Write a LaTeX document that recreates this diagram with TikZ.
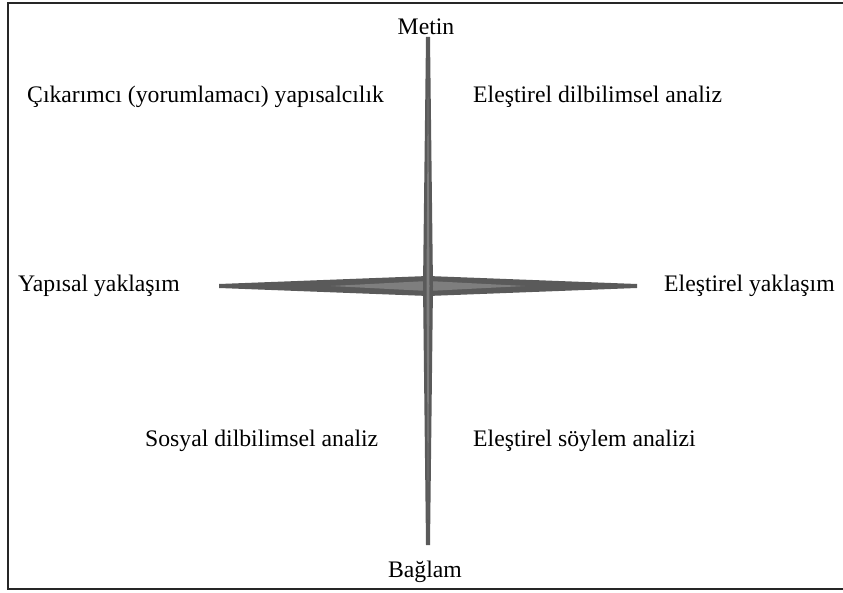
\documentclass[tikz,border=0pt]{standalone}
\usepackage{fontspec}
\setmainfont{Liberation Serif}
\newfontfamily\labelfont{Liberation Serif}
\usetikzlibrary{positioning}
\definecolor{darkspine}{HTML}{5A5A5A}
\definecolor{lightspine}{HTML}{7E7E7E}

\begin{document}
\begin{tikzpicture}[
    x=1pt, y=-1pt, % pixel-like units, y downwards
    every node/.style={font=\labelfont\fontsize{23.7}{28}\selectfont, inner sep=0pt},
    axis label/.style={anchor=base},
    quad label/.style={anchor=base west}
]

    % --- 1. PAGE AND FRAME ---
    \useasboundingbox (0,0) rectangle (843,593);
    \draw[line width=2pt, black!85] (850,3) -- (8,3) -- (8,589) -- (850,589);

    % --- 2. THE TWO SPINDLES ---
    \def\cx{428}
    \def\cy{286}

    % Horizontal spindle (outer dark, inner light)
    \fill[darkspine] (219,284) -- (\cx,276) -- (637,284) -- (637,288) -- (\cx,296) -- (219,288) -- cycle;
    \fill[lightspine] (331,286) -- (\cx,281) -- (525,286) -- (\cx,291) -- cycle;

    % Vertical spindle
    \fill[darkspine] (426,37) -- (430,37) -- (433,\cy) -- (430,545) -- (426,545) -- (423,\cy) -- cycle;
    \fill[lightspine] (428,60) -- (429.5,\cy) -- (428,520) -- (426.5,\cy) -- cycle;

    % --- 3. LABELS ---
    \node[axis label] (metin) at (426,35) {Metin};
    \node[axis label] (baglam) at (425,577) {Bağlam};

    \node[quad label] (cikarimci) at (27,103) {Çıkarımcı (yorumlamacı) yapısalcılık};
    \node[quad label] (elestireldil) at (473,103) {Eleştirel dilbilimsel analiz};

    \node[quad label] (yapisal) at (18,292) {Yapısal yaklaşım};
    \node[quad label] (elestirelyak) at (664,292) {Eleştirel yaklaşım};

    \node[quad label] (sosyal) at (145,446) {Sosyal dilbilimsel analiz};
    \node[quad label] (elestirelsoy) at (473,446) {Eleştirel söylem analizi};

\end{tikzpicture}
\end{document}
